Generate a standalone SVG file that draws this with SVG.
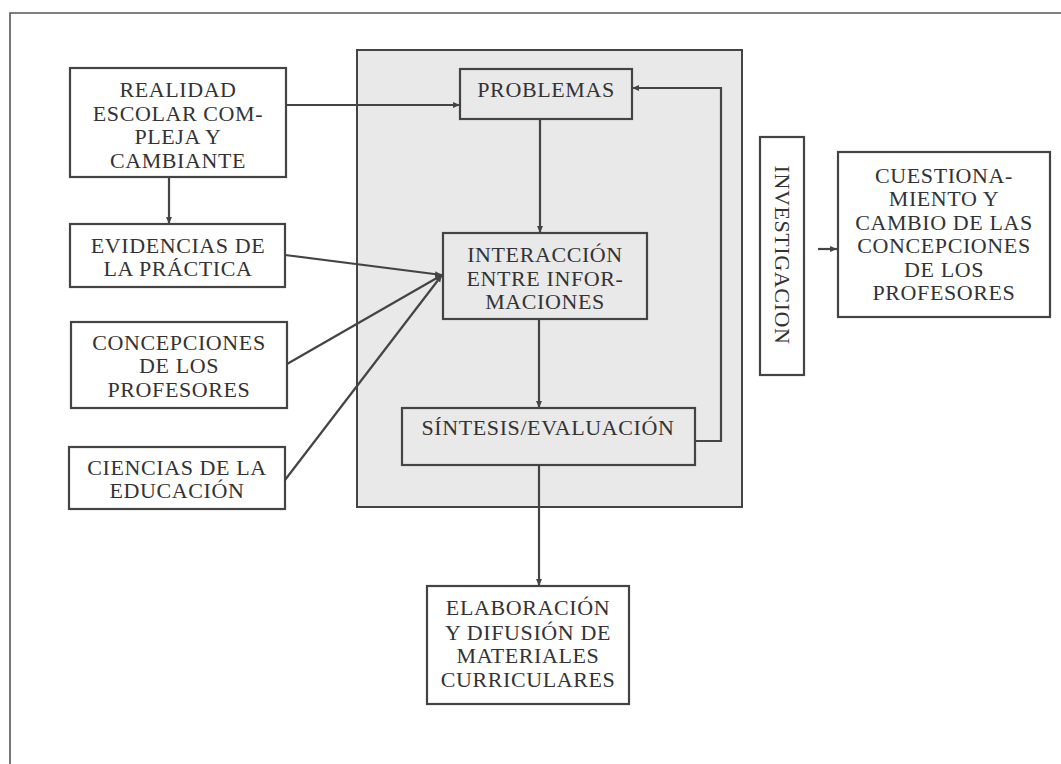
<svg xmlns="http://www.w3.org/2000/svg" width="1061" height="764" viewBox="0 0 1061 764">
<defs>
<marker id="ah" markerUnits="userSpaceOnUse" markerWidth="8" markerHeight="8" refX="7" refY="4" orient="auto">
<path d="M0,1 L7,4 L0,7 Z" fill="#444"/>
</marker>
<style>
.box{fill:#fff;stroke:#444;stroke-width:2.2}
.sbox{fill:#e9e9e9;stroke:#444;stroke-width:2.2}
.t{font-family:"Liberation Serif",serif;font-size:22px;fill:#333;text-anchor:middle;letter-spacing:0.6px}
.c{fill:none;stroke:#444;stroke-width:2.2}
.frame{fill:none;stroke:#555;stroke-width:1.6}
</style>
</defs>
<rect width="1061" height="764" fill="#fff"/>
<path class="frame" d="M10,764 L10,13 L1061,13"/>
<g id="area">
<rect x="357" y="50" width="385" height="457" fill="#e9e9e9" stroke="#444" stroke-width="2"/>
</g>
<g id="connectors">
<path class="c" d="M169,177 L169,224" marker-end="url(#ah)"/>
<path class="c" d="M286,105 L460,105" marker-end="url(#ah)"/>
<path class="c" d="M540,119 L540,233" marker-end="url(#ah)"/>
<path class="c" d="M285,255 L442,275" marker-end="url(#ah)"/>
<path class="c" d="M287,364 L442,275" marker-end="url(#ah)"/>
<path class="c" d="M285,480 L442,275" marker-end="url(#ah)"/>
<path class="c" d="M539,319 L539,408" marker-end="url(#ah)"/>
<path class="c" d="M695,441 L721,441 L721,88 L632,88" marker-end="url(#ah)"/>
<path class="c" d="M539,465 L539,586" marker-end="url(#ah)"/>
<path class="c" d="M818,249 L837,249" marker-end="url(#ah)"/>
</g>
<g id="realidad">
<rect class="box" x="70" y="68" width="216" height="109"/>
<text class="t" x="178" y="97">REALIDAD</text>
<text class="t" x="178" y="121">ESCOLAR COM-</text>
<text class="t" x="178" y="144">PLEJA Y</text>
<text class="t" x="178" y="168">CAMBIANTE</text>
</g>
<g id="evidencias">
<rect class="box" x="70" y="224" width="215" height="63"/>
<text class="t" x="178" y="253">EVIDENCIAS DE</text>
<text class="t" x="178" y="276">LA PRÁCTICA</text>
</g>
<g id="concepciones">
<rect class="box" x="71" y="322" width="216" height="86"/>
<text class="t" x="179" y="350">CONCEPCIONES</text>
<text class="t" x="179" y="373">DE LOS</text>
<text class="t" x="179" y="397">PROFESORES</text>
</g>
<g id="ciencias">
<rect class="box" x="69" y="447" width="216" height="62"/>
<text class="t" x="177" y="475">CIENCIAS DE LA</text>
<text class="t" x="177" y="498">EDUCACIÓN</text>
</g>
<g id="problemas">
<rect class="sbox" x="460" y="69" width="172" height="50"/>
<text class="t" x="546" y="97">PROBLEMAS</text>
</g>
<g id="interaccion">
<rect class="sbox" x="443" y="233" width="204" height="86"/>
<text class="t" x="545" y="262">INTERACCIÓN</text>
<text class="t" x="545" y="286">ENTRE INFOR-</text>
<text class="t" x="545" y="309">MACIONES</text>
</g>
<g id="sintesis">
<rect class="sbox" x="402" y="408" width="293" height="57"/>
<text class="t" x="548" y="435">SÍNTESIS/EVALUACIÓN</text>
</g>
<g id="elaboracion">
<rect class="box" x="427" y="586" width="202" height="118"/>
<text class="t" x="528" y="615">ELABORACIÓN</text>
<text class="t" x="528" y="640">Y DIFUSIÓN DE</text>
<text class="t" x="528" y="663">MATERIALES</text>
<text class="t" x="528" y="687">CURRICULARES</text>
</g>
<g id="investigacion">
<rect class="box" x="760" y="137" width="44" height="238"/>
<text class="t" transform="translate(775,255) rotate(90)" x="0" y="0">INVESTIGACION</text>
</g>
<g id="cuestionamiento">
<rect class="box" x="838" y="152" width="212" height="165"/>
<text class="t" x="944" y="183">CUESTIONA-</text>
<text class="t" x="944" y="206">MIENTO Y</text>
<text class="t" x="944" y="230">CAMBIO DE LAS</text>
<text class="t" x="944" y="253">CONCEPCIONES</text>
<text class="t" x="944" y="277">DE LOS</text>
<text class="t" x="944" y="300">PROFESORES</text>
</g>
</svg>
